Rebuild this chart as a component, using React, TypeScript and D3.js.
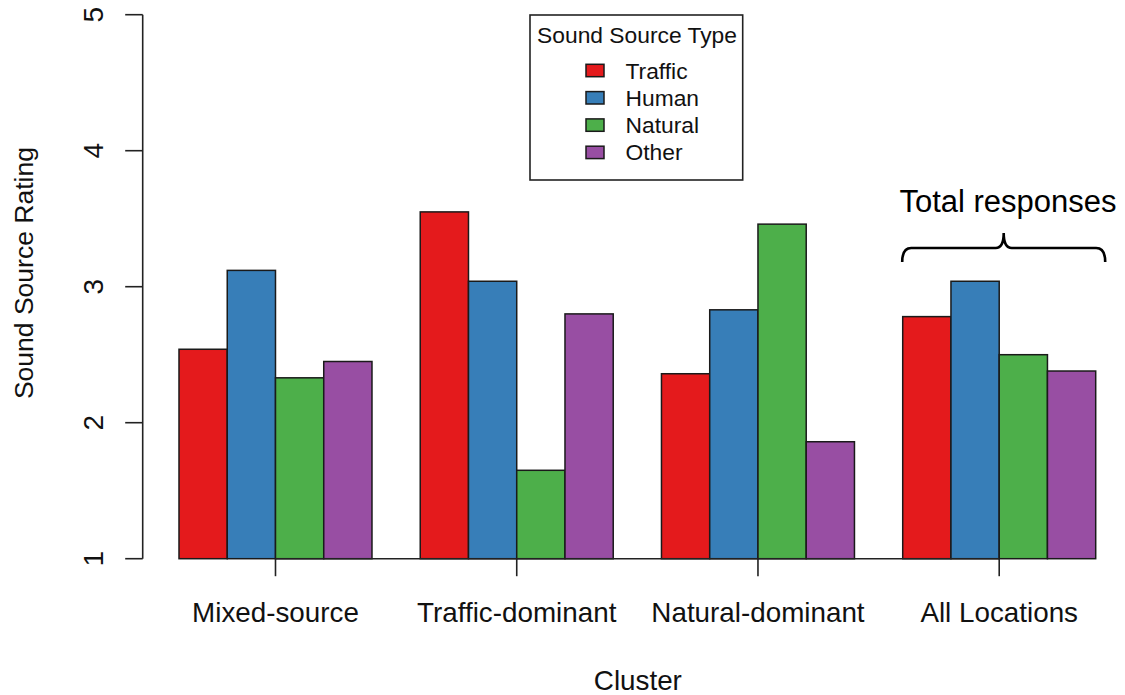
import * as d3 from 'd3';

const CLUSTERS = ['Mixed-source', 'Traffic-dominant', 'Natural-dominant', 'All Locations'];
const SOURCE_TYPES = ['Traffic', 'Human', 'Natural', 'Other'];
const SOURCE_COLORS = ['#E41A1C', '#377EB8', '#4DAF4A', '#984EA3'];

// rating per cluster, in SOURCE_TYPES order
const TRAFFIC = [2.54, 3.55, 2.36, 2.78];
const HUMAN = [3.12, 3.04, 2.83, 3.04];
const NATURAL = [2.33, 1.65, 3.46, 2.5];
const OTHER = [2.45, 2.8, 1.86, 2.38];

const Y_TICKS = [1, 2, 3, 4, 5];
const ANNOTATION = 'Total responses';

const W = 1125;
const H = 695;
const FONT = 'Liberation Sans, Arial, Helvetica, sans-serif';

export default function App() {
  const series = [TRAFFIC, HUMAN, NATURAL, OTHER];

  const y = d3.scaleLinear().domain([1, 5]).range([558.7, 14.7]);

  // R barplot(beside=TRUE): one empty bar-width before every group
  const x0 = d3
    .scaleBand<string>()
    .domain(CLUSTERS)
    .range([130.75, 1095.7])
    .paddingInner(0.2)
    .paddingOuter(0.1)
    .align(1);
  const x1 = d3.scaleBand<string>().domain(SOURCE_TYPES).range([0, x0.bandwidth()]);

  const axisLeft = 142.7;
  const tickLen = 17.5;
  const centers = CLUSTERS.map((c) => (x0(c) ?? 0) + x0.bandwidth() / 2);

  // brace over the last group
  const last = CLUSTERS[CLUSTERS.length - 1];
  const bL = (x0(last) ?? 0) - 0.5;
  const bR = (x0(last) ?? 0) + x0.bandwidth() + 9.5;
  const bM = (bL + bR) / 2;
  const bY = 248;
  const brace = d3.path();
  brace.moveTo(bL, bY + 14);
  brace.quadraticCurveTo(bL, bY, bL + 9, bY);
  brace.lineTo(bM - 8, bY);
  brace.quadraticCurveTo(bM, bY, bM, bY - 15);
  brace.quadraticCurveTo(bM, bY, bM + 8, bY);
  brace.lineTo(bR - 9, bY);
  brace.quadraticCurveTo(bR, bY, bR, bY + 14);

  const legendX = 530;
  const legendY = 15;
  const legendRow = 27.3;

  return (
    <svg
      width={W}
      height={H}
      viewBox={`0 0 ${W} ${H}`}
      style={{ position: 'fixed', left: 0, top: 0, background: '#ffffff' }}
      fontFamily={FONT}
    >
      <rect x={0} y={0} width={W} height={H} fill="#ffffff" />

      {/* bars */}
      {CLUSTERS.map((cluster, ci) => (
        <g key={cluster} transform={`translate(${x0(cluster)},0)`}>
          {SOURCE_TYPES.map((type, si) => (
            <rect
              key={type}
              x={x1(type)}
              y={y(series[si][ci])}
              width={x1.bandwidth()}
              height={y(1) - y(series[si][ci])}
              fill={SOURCE_COLORS[si]}
              stroke="#1a1a1a"
              strokeWidth={1.5}
            />
          ))}
        </g>
      ))}

      {/* y axis */}
      <line x1={axisLeft} x2={axisLeft} y1={y(1)} y2={y(5)} stroke="#222" strokeWidth={1.6} />
      {Y_TICKS.map((t) => (
        <g key={t} transform={`translate(${axisLeft},${y(t)})`}>
          <line x1={-tickLen} x2={0} stroke="#222" strokeWidth={1.6} />
          <text
            transform="translate(-40,0) rotate(-90)"
            textAnchor="middle"
            fontSize={28}
            fill="#111"
          >
            {t}
          </text>
        </g>
      ))}
      <text
        transform={`translate(33,${y(3.1)}) rotate(-90)`}
        textAnchor="middle"
        fontSize={26.5}
        fill="#111"
      >
        Sound Source Rating
      </text>

      {/* x axis */}
      <line
        x1={centers[0]}
        x2={centers[centers.length - 1]}
        y1={y(1)}
        y2={y(1)}
        stroke="#222"
        strokeWidth={1.6}
      />
      {CLUSTERS.map((c, i) => (
        <g key={c} transform={`translate(${centers[i]},${y(1)})`}>
          <line y1={0} y2={tickLen} stroke="#222" strokeWidth={1.6} />
          <text y={63} textAnchor="middle" fontSize={27.8} fill="#111">
            {c}
          </text>
        </g>
      ))}
      <text x={(centers[0] + centers[3]) / 2 + 0.5} y={690} textAnchor="middle" fontSize={27.8} fill="#111">
        Cluster
      </text>

      {/* legend */}
      <rect
        x={legendX}
        y={legendY}
        width={212.7}
        height={165}
        fill="#ffffff"
        stroke="#222"
        strokeWidth={1.6}
      />
      <text x={legendX + 107} y={legendY + 28} textAnchor="middle" fontSize={22.8} fill="#111">
        Sound Source Type
      </text>
      {SOURCE_TYPES.map((type, i) => (
        <g key={type} transform={`translate(${legendX + 56},${legendY + 55.5 + i * legendRow})`}>
          <rect x={0} y={-6.2} width={18} height={12.4} fill={SOURCE_COLORS[i]} stroke="#1a1a1a" strokeWidth={1.5} />
          <text x={39.5} y={8} fontSize={22.8} fill="#111">
            {type}
          </text>
        </g>
      ))}

      {/* annotation */}
      <text x={1008} y={212.3} textAnchor="middle" fontSize={31} fill="#000">
        {ANNOTATION}
      </text>
      <path d={brace.toString()} fill="none" stroke="#000" strokeWidth={2.6} />
    </svg>
  );
}
